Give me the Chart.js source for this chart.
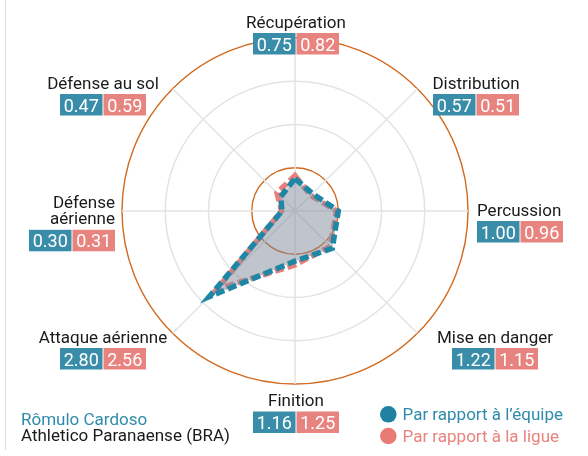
<!DOCTYPE html>
<html>
<head>
<meta charset="utf-8">
<script src="https://cdn.jsdelivr.net/npm/chart.js@4.4.1/dist/chart.umd.min.js"></script>
<style>
  html, body { margin: 0; padding: 0; background: #ffffff; }
  #wrap { width: 588px; height: 456px; position: relative; }
</style>
</head>
<body>
<div id="wrap"><canvas id="radar" width="588" height="456"></canvas></div>
<script>
// Axis names (multi-line where the label wraps), clockwise from the top
const categories = [
  ["Récupération"],
  ["Distribution"],
  ["Percussion"],
  ["Mise en danger"],
  ["Finition"],
  ["Attaque aérienne"],
  ["Défense", "aérienne"],
  ["Défense au sol"]
];
// Ratio to the team average and to the league average
const teamValues   = [0.75, 0.57, 1.00, 1.22, 1.16, 2.80, 0.30, 0.47];
const leagueValues = [0.82, 0.51, 0.96, 1.15, 1.25, 2.56, 0.31, 0.59];
const seriesNames  = ["Par rapport à l’équipe", "Par rapport à la ligue"];
const radialTicks  = [0, 1, 2, 3, 4];
const playerName   = "Rômulo Cardoso";
const clubName     = "Athletico Paranaense (BRA)";

// Palette
const BLUE_LINE = "#1f86a5";
const RED_LINE  = "#e9807c";
const BLUE_BOX  = "#3a8da9";
const RED_BOX   = "#e8847f";
const BLUE_DOT  = "#1f82a3";
const RED_DOT   = "#e97b77";
const BLUE_TXT  = "#2e8bab";
const RED_TXT   = "#e8847f";
const ORANGE    = "#d2691e";
const GRID      = "#e3e3e3";
const FILL      = "rgba(130,140,155,0.5)";
const FONT      = "Roboto, 'Noto Sans', sans-serif";

// Where each label block (name + value boxes) sits, relative to the radar centre
const labelBlockOffset = [
  [1, -176], [181, -115], [225, 12], [200, 139],
  [1, 202.5], [-192, 139], [-223, 12.5], [-192, -115]
];

const axisLabels = {
  id: "axisLabels",
  afterDraw(chart) {
    const ctx = chart.ctx;
    const r = chart.scales.r;
    const cx = r.xCenter, cy = r.yCenter;
    const lineH = 16.6, capH = 12, gap = 5.5, boxH = 21.5, boxW = 42.5, boxGap = 1;
    const pairW = boxW * 2 + boxGap;
    ctx.save();
    categories.forEach((lines, i) => {
      const angle = r.getIndexAngle(i);
      const s = Math.sin(angle);
      const align = s > 0.99 ? "left" : (s < -0.99 ? "right" : "center");
      ctx.font = "17px " + FONT;
      const textW = Math.max(...lines.map(l => ctx.measureText(l).width));
      const W = Math.max(textW, pairW);
      const H = capH + (lines.length - 1) * lineH + gap + boxH;
      const bx = cx + labelBlockOffset[i][0];
      const by = cy + labelBlockOffset[i][1];
      const left = bx - W / 2, top = by - H / 2;
      let tx, boxLeft;
      if (align === "left") { tx = left; boxLeft = left; }
      else if (align === "right") { tx = left + W; boxLeft = left + W - pairW; }
      else { tx = bx; boxLeft = bx - pairW / 2; }
      ctx.fillStyle = "#1a1a1a";
      ctx.textAlign = align;
      ctx.textBaseline = "alphabetic";
      lines.forEach((l, k) => ctx.fillText(l, tx, top + capH + k * lineH));
      const boxTop = top + capH + (lines.length - 1) * lineH + gap;
      ctx.fillStyle = BLUE_BOX;
      ctx.fillRect(boxLeft, boxTop, boxW, boxH);
      ctx.fillStyle = RED_BOX;
      ctx.fillRect(boxLeft + boxW + boxGap, boxTop, boxW, boxH);
      ctx.font = "18px " + FONT;
      ctx.fillStyle = "#ffffff";
      ctx.textAlign = "center";
      ctx.fillText(teamValues[i].toFixed(2), boxLeft + boxW / 2, boxTop + 17.5);
      ctx.fillText(leagueValues[i].toFixed(2), boxLeft + boxW + boxGap + boxW / 2, boxTop + 17.5);
    });
    ctx.restore();
  }
};

const captions = {
  id: "captions",
  afterDraw(chart) {
    const ctx = chart.ctx;
    ctx.save();
    // thin rule on the left edge
    ctx.strokeStyle = "#dedede";
    ctx.lineWidth = 1;
    ctx.beginPath();
    ctx.moveTo(5.5, 0);
    ctx.lineTo(5.5, 450);
    ctx.stroke();
    // player and club
    ctx.font = "17px " + FONT;
    ctx.textAlign = "left";
    ctx.textBaseline = "alphabetic";
    ctx.fillStyle = BLUE_TXT;
    ctx.fillText(playerName, 21, 424.5);
    ctx.fillStyle = "#1a1a1a";
    ctx.fillText(clubName, 21, 441);
    // series key
    const dots = [BLUE_DOT, RED_DOT], txt = [BLUE_TXT, RED_TXT];
    seriesNames.forEach((name, k) => {
      const y = 414.3 + k * 21.7;
      ctx.fillStyle = dots[k];
      ctx.beginPath();
      ctx.arc(388.3, y, 8.3, 0, Math.PI * 2);
      ctx.fill();
      ctx.fillStyle = txt[k];
      ctx.fillText(name, 402.5, y + 6);
    });
    ctx.restore();
  }
};

new Chart(document.getElementById("radar"), {
  type: "radar",
  data: {
    labels: categories.map(c => c.join(" ")),
    datasets: [
      {
        label: seriesNames[0],
        data: teamValues,
        borderColor: BLUE_LINE,
        borderWidth: 5.5,
        borderDash: [9, 4],
        backgroundColor: FILL,
        fill: true,
        pointRadius: 0,
        pointHoverRadius: 0,
        tension: 0
      },
      {
        label: seriesNames[1],
        data: leagueValues,
        borderColor: RED_LINE,
        borderWidth: 5.5,
        borderDash: [9, 4],
        backgroundColor: "rgba(0,0,0,0)",
        fill: false,
        pointRadius: 0,
        pointHoverRadius: 0,
        tension: 0
      }
    ]
  },
  options: {
    responsive: false,
    animation: false,
    layout: { padding: { left: 122, right: 120, top: 38, bottom: 72 } },
    plugins: { legend: { display: false }, tooltip: { enabled: false } },
    scales: {
      r: {
        min: radialTicks[0],
        max: radialTicks[radialTicks.length - 1],
        afterBuildTicks: s => { s.ticks = radialTicks.map(v => ({ value: v })); },
        ticks: { display: false },
        pointLabels: { display: false },
        grid: {
          circular: true,
          color: c => (c.tick && (c.tick.value === 1 || c.tick.value === 4)) ? ORANGE : GRID,
          lineWidth: c => (c.tick && (c.tick.value === 1 || c.tick.value === 4)) ? 1.4 : 1.5
        },
        angleLines: { color: GRID, lineWidth: 1.5 }
      }
    }
  },
  plugins: [axisLabels, captions]
});
</script>
</body>
</html>
